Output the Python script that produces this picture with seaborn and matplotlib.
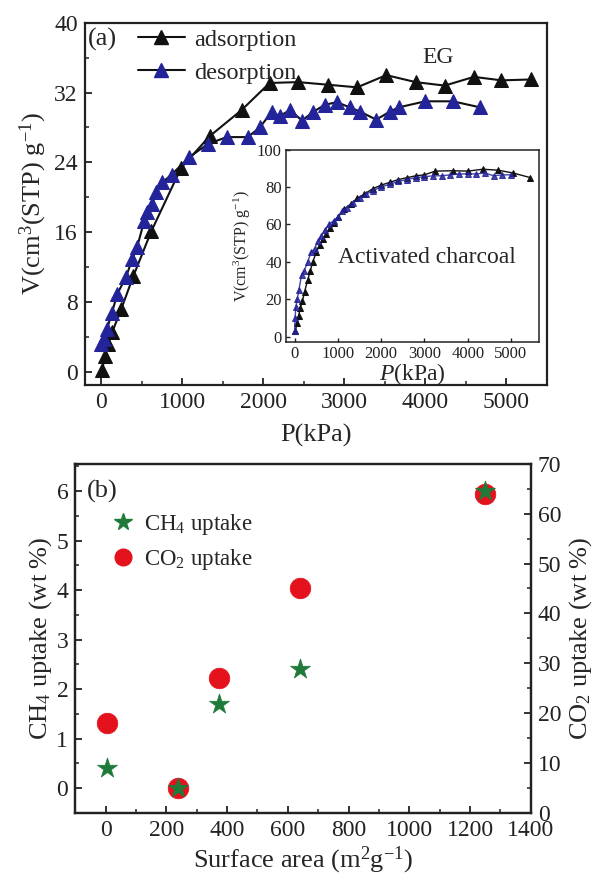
import numpy as np
import pandas as pd
import matplotlib
matplotlib.use("Agg")
import matplotlib.pyplot as plt
from matplotlib.ticker import MultipleLocator
from matplotlib.lines import Line2D
import seaborn as sns

# ---------------- data ----------------
# (a) EG isotherm
eg_ads_p = [12, 50, 90, 140, 250, 400, 620, 990, 1340, 1735, 2080, 2430, 2800, 3160, 3520, 3880, 4240, 4600, 4940, 5300]
eg_ads_v = [0.2, 1.8, 3.2, 4.6, 7.2, 11.0, 16.1, 23.4, 27.0, 30.0, 33.1, 33.2, 32.9, 32.6, 34.0, 33.2, 32.8, 33.8, 33.4, 33.5]
eg_des_p = [0, 37, 74, 136, 200, 310, 385, 446, 533, 570, 632, 680, 756, 870, 1090, 1315, 1550, 1810, 1960,
            2105, 2205, 2330, 2480, 2620, 2760, 2910, 3070, 3200, 3395, 3560, 3670, 4000, 4340, 4680]
eg_des_v = [3.2, 3.8, 4.9, 6.8, 8.9, 10.9, 12.9, 14.3, 17.3, 18.3, 19.2, 20.6, 21.7, 22.6, 24.6, 26.1, 26.9, 26.9, 28.0,
            29.8, 29.3, 30.0, 28.8, 29.8, 30.6, 30.9, 30.3, 29.8, 28.9, 29.8, 30.3, 31.0, 31.0, 30.3]
# (a) inset: activated charcoal
ac_ads_p = [20, 50, 90, 130, 180, 230, 300, 360, 420, 500, 580, 650, 730, 810, 900, 1000, 1150, 1300, 1450, 1600,
            1800, 2000, 2200, 2400, 2600, 2800, 3000, 3250, 3650, 4000, 4350, 4700, 5050, 5450]
ac_ads_v = [3, 7, 11, 15, 19, 24, 30, 35, 40, 45, 49, 52, 55, 58, 61, 64, 68, 71, 74, 76,
            79, 81, 82.5, 84, 85, 86, 86.5, 88.5, 88.7, 88.5, 89.5, 89, 87.5, 85]
ac_des_p = [0, 10, 30, 60, 100, 160, 220, 300, 380, 460, 540, 620, 700, 800, 900, 1000, 1100, 1200, 1350, 1500,
            1650, 1800, 2000, 2200, 2400, 2600, 2800, 3000, 3200, 3400, 3600, 3800, 4000, 4200, 4400, 4600, 4800, 5000]
ac_des_v = [3, 10, 16, 20, 25, 33, 35, 40, 45, 47, 51, 54, 57, 60, 62, 64, 67, 69, 71.5, 74,
            76, 78, 80, 81.5, 83, 84, 85, 85.5, 86, 86, 86.5, 87, 87, 87, 87.5, 86, 86.5, 86.5]
# (b) uptake vs surface area
surface_area = [5, 240, 375, 640, 1250]
ch4_uptake = [0.4, 0.0, 1.7, 2.4, 6.0]
co2_uptake = [18, 5, 27, 45, 64]

# ---------------- style ----------------
sns.set_style("ticks")
plt.rcParams.update({
    "font.family": ["Liberation Serif", "DejaVu Serif"],
    "mathtext.fontset": "custom",
    "mathtext.rm": "Liberation Serif",
    "mathtext.it": "Liberation Serif:italic",
    "mathtext.bf": "Liberation Serif:bold",
    "axes.edgecolor": "#222222",
    "axes.linewidth": 1.6,
    "xtick.direction": "in",
    "ytick.direction": "in",
    "xtick.color": "#222222",
    "ytick.color": "#222222",
})

BLACK = "#111111"
BLUE = "#23239a"
RED = "#e3121c"
GREEN = "#1f7a3a"

fig = plt.figure(figsize=(5.97, 8.75), dpi=100)

# ---------------- panel (a) ----------------
ax = fig.add_axes([0.142, 0.560, 0.774, 0.414])
dfa = pd.DataFrame({"p": eg_ads_p, "v": eg_ads_v})
dfd = pd.DataFrame({"p": eg_des_p, "v": eg_des_v})
sns.lineplot(data=dfa, x="p", y="v", ax=ax, color=BLACK, marker="^", markersize=10,
             markeredgecolor=BLACK, linewidth=1.5, sort=False, estimator=None, label="adsorption")
sns.lineplot(data=dfd, x="p", y="v", ax=ax, color=BLACK, marker="^", markersize=10,
             markerfacecolor=BLUE, markeredgecolor=BLUE, linewidth=1.5, sort=False, estimator=None,
             label="desorption")
ax.set_xlim(-200, 5500)
ax.set_ylim(-1.5, 40)
ax.xaxis.set_major_locator(MultipleLocator(1000))
ax.xaxis.set_minor_locator(MultipleLocator(500))
ax.yaxis.set_major_locator(MultipleLocator(8))
ax.yaxis.set_minor_locator(MultipleLocator(4))
ax.tick_params(which="both", direction="in")
ax.tick_params(which="major", length=5, width=1.3, labelsize=17, pad=5)
ax.tick_params(which="minor", length=3, width=1.1)
ax.set_xlabel("P(kPa)", fontsize=19, labelpad=8)
ax.set_ylabel("V(cm$^3$(STP) g$^{-1}$)", fontsize=19, labelpad=4)
ax.text(0.006, 0.955, "(a)", transform=ax.transAxes, fontsize=19, ha="left", va="center")
ax.text(0.73, 0.905, "EG", transform=ax.transAxes, fontsize=17, ha="left", va="center")
h = [Line2D([], [], color=BLACK, marker="^", markersize=10, lw=1.5, markeredgecolor=BLACK),
     Line2D([], [], color=BLACK, marker="^", markersize=10, lw=1.5, markerfacecolor=BLUE, markeredgecolor=BLUE)]
ax.legend(h, ["adsorption", "desorption"], loc="upper left", bbox_to_anchor=(0.095, 1.01),
          frameon=False, fontsize=17.5, handlelength=1.9, handletextpad=0.4, labelspacing=0.45,
          borderaxespad=0)

# inset
axi = fig.add_axes([0.479, 0.609, 0.424, 0.220])
dfa2 = pd.DataFrame({"p": ac_ads_p, "v": ac_ads_v})
dfd2 = pd.DataFrame({"p": ac_des_p, "v": ac_des_v})
sns.lineplot(data=dfa2, x="p", y="v", ax=axi, color=BLACK, marker="^", markersize=5,
             markeredgecolor=BLACK, linewidth=1.0, sort=False, estimator=None)
sns.lineplot(data=dfd2, x="p", y="v", ax=axi, color=BLUE, marker="^", markersize=5,
             markerfacecolor=BLUE, markeredgecolor=BLUE, linewidth=1.0, sort=False, estimator=None, alpha=0.85)
axi.set_xlim(-200, 5650)
axi.set_ylim(-3, 100)
axi.xaxis.set_major_locator(MultipleLocator(1000))
axi.yaxis.set_major_locator(MultipleLocator(20))
axi.tick_params(which="both", direction="in")
axi.tick_params(which="major", length=3, width=1.0, labelsize=12, pad=3)
for s in axi.spines.values():
    s.set_linewidth(1.1)
axi.set_xlabel("$P$(kPa)", fontsize=17, labelpad=-1)
axi.set_ylabel("V(cm$^3$(STP) g$^{-1}$)", fontsize=11.5, labelpad=3)
axi.text(0.205, 0.44, "Activated charcoal", transform=axi.transAxes, fontsize=17, ha="left", va="center")

# ---------------- panel (b) ----------------
axb = fig.add_axes([0.126, 0.071, 0.763, 0.399])
axr = axb.twinx()
sns.scatterplot(x=surface_area, y=co2_uptake, ax=axr, marker="o", s=220, color=RED, edgecolor=RED,
                linewidth=0.5)
sns.scatterplot(x=surface_area, y=ch4_uptake, ax=axb, marker="*", s=230, color=GREEN, edgecolor=GREEN,
                linewidth=0.5)
axb.set_zorder(axr.get_zorder() + 1)
axb.patch.set_visible(False)
axb.set_xlim(-100, 1400)
axb.set_ylim(-0.5, 6.55)
axr.set_ylim(0, 70)
axb.xaxis.set_major_locator(MultipleLocator(200))
axb.xaxis.set_minor_locator(MultipleLocator(100))
axb.yaxis.set_major_locator(MultipleLocator(1))
axb.yaxis.set_minor_locator(MultipleLocator(0.5))
axr.yaxis.set_major_locator(MultipleLocator(10))
axr.yaxis.set_minor_locator(MultipleLocator(5))
for a in (axb, axr):
    a.tick_params(which="both", direction="in")
    a.tick_params(which="major", length=5, width=1.3, labelsize=17, pad=5)
    a.tick_params(which="minor", length=3, width=1.1)
    for s in a.spines.values():
        s.set_linewidth(1.6)
        s.set_visible(True)
axb.set_xlabel("Surface area (m$^2$g$^{-1}$)", fontsize=19, labelpad=3)
axb.set_ylabel("CH$_4$ uptake (wt %)", fontsize=19, labelpad=2)
axr.set_ylabel("CO$_2$ uptake (wt %)", fontsize=19, labelpad=4)
axb.text(0.025, 0.92, "(b)", transform=axb.transAxes, fontsize=19, ha="left", va="center")
hb = [Line2D([], [], ls="none", marker="*", markersize=13, color=GREEN),
      Line2D([], [], ls="none", marker="o", markersize=12, color=RED)]
axb.legend(hb, ["CH$_4$ uptake", "CO$_2$ uptake"], loc="upper left", bbox_to_anchor=(0.06, 0.888),
           frameon=False, fontsize=16.5, handlelength=1.0, handletextpad=0.4, labelspacing=0.45,
           borderaxespad=0)

fig.savefig("out.png", dpi=100)
